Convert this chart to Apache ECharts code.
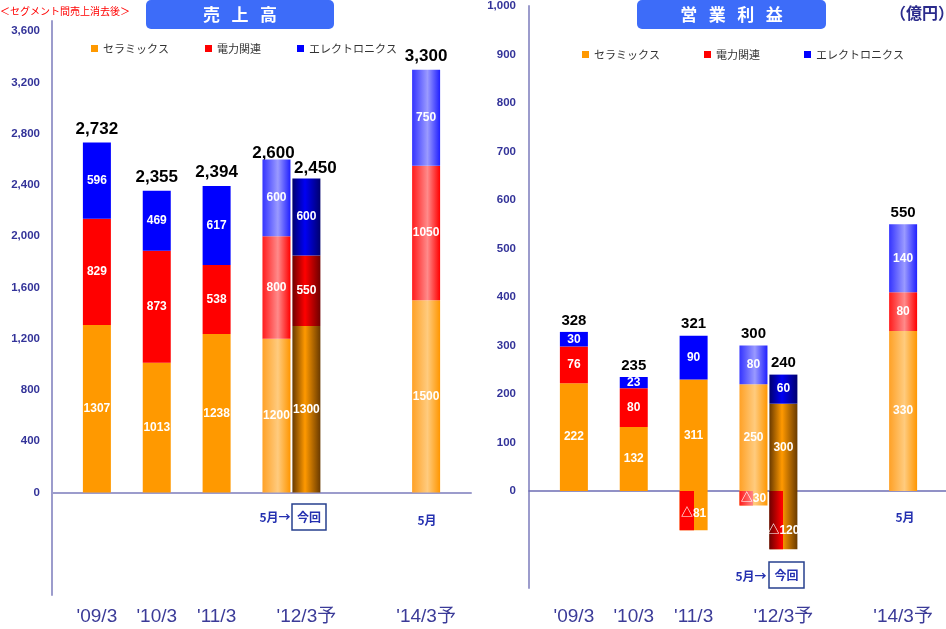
<!DOCTYPE html>
<html>
<head>
<meta charset="utf-8">
<script src="https://cdn.jsdelivr.net/npm/echarts@6/dist/echarts.min.js"></script>
<style>
  html, body { margin: 0; padding: 0; background: #ffffff; }
  #chart { width: 946px; height: 629px; }
</style>
</head>
<body>
<div id="chart"></div>
<script>
// ---- Data -------------------------------------------------------------
// Period labels printed under the columns
const periodLabels = ["'09/3", "'10/3", "'11/3", "'12/3予", "'14/3予"];
// Column kind per bar: actual result, May forecast, current revision
const barKinds = ['solid', 'solid', 'solid', 'light', 'dark', 'light'];

// 売上高 (億円): '09/3, '10/3, '11/3, '12/3予(5月), '12/3予(今回), '14/3予
const salesCeramics    = [1307, 1013, 1238, 1200, 1300, 1500];
const salesPower       = [829, 873, 538, 800, 550, 1050];
const salesElectronics = [596, 469, 617, 600, 600, 750];
const salesTotals      = [2732, 2355, 2394, 2600, 2450, 3300];

// 営業利益 (億円)
const opCeramics    = [222, 132, 311, 250, 300, 330];
const opPower       = [76, 80, -81, -30, -120, 80];
const opElectronics = [30, 23, 90, 80, 60, 140];
const opTotals      = [328, 235, 321, 300, 240, 550];

// Value-axis tick labels
const salesTicks = [0, 400, 800, 1200, 1600, 2000, 2400, 2800, 3200, 3600];
const opTicks    = [0, 100, 200, 300, 400, 500, 600, 700, 800, 900, 1000];

// ---- Layout helpers -----------------------------------------------------
// Each panel uses a 14-slot category axis; bars sit in these slots
const SLOT_COUNT = 14;
const barSlots = [1, 3, 5, 7, 8, 12];
const periodSlots = [1, 3, 5, 8, 12];
const slotNames = Array.from({ length: SLOT_COUNT }, (_, i) => 's' + i);

const FONT_LATIN = '"Liberation Sans", "Noto Sans CJK JP", sans-serif';
const FONT_JP = '"Noto Sans CJK JP", sans-serif';

function placeOnSlots(values, build) {
  const arr = new Array(SLOT_COUNT).fill('-');
  values.forEach((v, i) => { arr[barSlots[i]] = build(v, i); });
  return arr;
}

// Fills: flat for results, light cylinder for May forecasts, dark for revision
const FILLS = {
  ceramics:    { solid: '#ff9900', light: ['#ffa126', '#ffcb7e', '#ff9600'], dark: ['#693a00', '#ff9900', '#693a00'] },
  power:       { solid: '#ff0000', light: ['#ff1c1c', '#ff8a8a', '#ff0000'], dark: ['#6e0000', '#ff0000', '#6e0000'] },
  electronics: { solid: '#0000ff', light: ['#3434ff', '#9a9aff', '#2020ff'], dark: ['#00006e', '#0000f4', '#00006e'] }
};
const MID = { light: 0.55, dark: 0.45 };

function fill(key, kind) {
  const f = FILLS[key][kind];
  if (kind === 'solid') return f;
  return {
    type: 'linear', x: 0, y: 0, x2: 1, y2: 0,
    colorStops: [
      { offset: 0, color: f[0] },
      { offset: MID[kind], color: f[1] },
      { offset: 1, color: f[2] }
    ]
  };
}

// Loss segments are painted on the left half of the column only
function leftHalfFill(key, kind) {
  const clear = 'rgba(255,255,255,0)';
  const f = FILLS[key][kind];
  let stops;
  if (kind === 'solid') {
    stops = [{ offset: 0, color: f }, { offset: 0.5, color: f }];
  } else {
    stops = [
      { offset: 0, color: f[0] },
      { offset: Math.min(MID[kind], 0.5), color: f[1] },
      { offset: 0.5, color: f[1] }
    ];
  }
  stops.push({ offset: 0.5, color: clear }, { offset: 1, color: clear });
  return { type: 'linear', x: 0, y: 0, x2: 1, y2: 0, colorStops: stops };
}

const segLabel = {
  show: true, position: 'inside', color: '#ffffff',
  fontWeight: 'bold', fontSize: 12, fontFamily: FONT_LATIN
};
const fmt = v => Number(v).toLocaleString('en-US');

function segmentSeries(name, key, values, grid, stack, extra) {
  return Object.assign({
    name, type: 'bar', stack,
    xAxisIndex: grid === 0 ? 0 : 2, yAxisIndex: grid,
    barWidth: 28, barGap: '-100%',
    itemStyle: { color: FILLS[key].solid },
    emphasis: { disabled: true },
    label: segLabel,
    data: placeOnSlots(values, (v, i) => ({ value: v, itemStyle: { color: fill(key, barKinds[i]) } }))
  }, extra || {});
}

function totalSeries(values, grid, fontSize, distance, offsets) {
  return {
    name: '合計', type: 'bar',
    xAxisIndex: grid === 0 ? 0 : 2, yAxisIndex: grid,
    barWidth: 28, barGap: '-100%', z: 1, silent: true,
    itemStyle: { color: 'rgba(0,0,0,0)' },
    emphasis: { disabled: true },
    label: {
      show: true, position: 'top', distance,
      color: '#000000', fontWeight: 'bold', fontSize, fontFamily: FONT_LATIN,
      formatter: p => fmt(p.value)
    },
    data: placeOnSlots(values, (v, i) => ({ value: v, label: { offset: offsets[i] || [0, 0] } }))
  };
}

// ---- Series -----------------------------------------------------------
const salesSeries = [
  segmentSeries('セラミックス', 'ceramics', salesCeramics, 0, 'sales'),
  segmentSeries('電力関連', 'power', salesPower, 0, 'sales'),
  segmentSeries('エレクトロニクス', 'electronics', salesElectronics, 0, 'sales'),
  totalSeries(salesTotals, 0, 17, 5, { 3: [-3, 7], 4: [9, 3] })
];

const opLoss = opPower.map(v => (v < 0 ? v : 0));
const opGain = opPower.map(v => (v > 0 ? v : 0));
// nudges for the loss captions
const lossLabelShift = { 2: [0, 3], 4: [0, 11] };

const opSeries = [
  // power-segment losses form the base of the stack, drawn over the ceramics column
  {
    name: '電力関連', type: 'bar', stack: 'op', stackStrategy: 'all',
    xAxisIndex: 2, yAxisIndex: 1, barWidth: 28, barGap: '-100%', z: 3,
    itemStyle: { color: '#ff0000' },
    emphasis: { disabled: true },
    label: Object.assign({}, segLabel, { formatter: p => (p.value < 0 ? '△' + (-p.value) : '') }),
    data: placeOnSlots(opLoss, (v, i) => ({
      value: v,
      itemStyle: { color: leftHalfFill('power', barKinds[i]) },
      label: { offset: lossLabelShift[i] || [0, 0] }
    }))
  },
  segmentSeries('セラミックス', 'ceramics', opCeramics, 1, 'op', {
    stackStrategy: 'all',
    data: placeOnSlots(opCeramics, (v, i) => {
      const loss = Math.min(opPower[i], 0);
      const pct = ((v + loss) / (2 * v)) * 100;
      return {
        value: v,
        itemStyle: { color: fill('ceramics', barKinds[i]) },
        label: { position: ['50%', pct + '%'], align: 'center', verticalAlign: 'middle' }
      };
    })
  }),
  segmentSeries('電力関連', 'power', opGain, 1, 'op', {
    stackStrategy: 'all',
    label: Object.assign({}, segLabel, { formatter: p => (p.value > 0 ? String(p.value) : '') })
  }),
  segmentSeries('エレクトロニクス', 'electronics', opElectronics, 1, 'op', { stackStrategy: 'all' }),
  totalSeries(opTotals, 1, 15, 4, {})
];

// ---- Axes -------------------------------------------------------------
function zeroAxis(grid, color, width) {
  return {
    type: 'category', gridIndex: grid, data: slotNames, position: 'bottom',
    axisLine: { show: true, onZero: true, lineStyle: { color, width } },
    axisTick: { show: false }, axisLabel: { show: false }, splitLine: { show: false }
  };
}
function periodAxis(grid, margin) {
  return {
    type: 'category', gridIndex: grid, data: slotNames, position: 'bottom',
    axisLine: { show: false, onZero: false }, axisTick: { show: false },
    axisLabel: {
      interval: 0, margin, verticalAlign: 'middle',
      color: '#3b3b98', fontSize: 19, fontFamily: FONT_LATIN,
      formatter: (val, idx) => {
        const k = periodSlots.indexOf(idx);
        return k >= 0 ? periodLabels[k] : '';
      }
    }
  };
}
function valueAxis(grid, min, max, interval, ticks, margin) {
  return {
    type: 'value', gridIndex: grid, min, max, interval,
    axisLine: { show: true, lineStyle: { color: '#9c9ccc', width: 2 } },
    axisTick: { show: false }, splitLine: { show: false },
    axisLabel: {
      margin, color: '#333399', fontWeight: 'bold', fontSize: 11.5, fontFamily: FONT_LATIN,
      formatter: v => (ticks.includes(v) ? fmt(v) : '')
    }
  };
}

// ---- Legends ----------------------------------------------------------
const legendItems = [
  { name: 'セラミックス', itemStyle: { color: '#ff9900' } },
  { name: '電力関連', itemStyle: { color: '#ff0000' } },
  { name: 'エレクトロニクス', itemStyle: { color: '#0000ff' } }
];
function legendAt(left, top, gap) {
  return {
    left, top, padding: 0, itemGap: gap, itemWidth: 7, itemHeight: 7,
    icon: 'rect', selectedMode: false, data: legendItems,
    textStyle: { fontSize: 11, color: '#333333', fontFamily: FONT_JP }
  };
}

// ---- Titles and notes -------------------------------------------------
const noteFont = 'bold 12px "Noto Sans CJK JP", sans-serif';
const noteColor = '#2430b0';
function noteText(text, x, y) {
  return { type: 'text', x, y, z: 10, style: { text, fill: noteColor, font: noteFont, align: 'center', verticalAlign: 'middle' } };
}
function noteBox(x, y, w, h) {
  return { type: 'rect', z: 9, shape: { x, y, width: w, height: h }, style: { fill: '#ffffff', stroke: '#27408f', lineWidth: 1.5 } };
}
function titleBox(text, x, w) {
  return [
    { type: 'rect', shape: { x, y: 0, width: w, height: 29, r: 5 }, style: { fill: '#3d6cf9' } },
    { type: 'text', x: x + w / 2, y: 15, style: { text, fill: '#ffffff', font: 'bold 17px "Noto Sans CJK JP", sans-serif', align: 'center', verticalAlign: 'middle' } }
  ];
}

const graphics = [
  { type: 'text', x: 0, y: 11, style: { text: '＜セグメント間売上消去後＞', fill: '#ff0000', font: '10px "Noto Sans CJK JP", sans-serif', verticalAlign: 'middle' } },
  ...titleBox('売   上   高', 146, 188),
  ...titleBox('営   業   利   益', 637, 189),
  { type: 'text', x: 954, y: 13, style: { text: '（億円）', fill: '#2b2b8c', font: 'bold 16px "Noto Sans CJK JP", sans-serif', align: 'right', verticalAlign: 'middle' } },
  // sales panel notes
  noteText('5月→', 275, 517),
  noteBox(292, 504, 34, 26),
  noteText('今回', 309, 517),
  noteText('5月', 427, 520),
  // operating income panel notes
  noteText('5月→', 751, 576),
  noteBox(769, 562, 35, 26),
  noteText('今回', 786.5, 575),
  noteText('5月', 905, 517)
];

// ---- Chart --------------------------------------------------------------
const chart = echarts.init(document.getElementById('chart'), null, { renderer: 'canvas' });
chart.setOption({
  animation: false,
  backgroundColor: '#ffffff',
  grid: [
    { left: 52, top: 21, width: 419, height: 574, outerBoundsMode: 'none' },
    { left: 529, top: 6, width: 419, height: 582, outerBoundsMode: 'none' }
  ],
  xAxis: [
    zeroAxis(0, '#9c9ccc', 2),
    periodAxis(0, 22),
    zeroAxis(1, '#6e6eb4', 1.5),
    periodAxis(1, 29)
  ],
  yAxis: [
    valueAxis(0, -800, 3680, 400, salesTicks, 12),
    valueAxis(1, -200, 1000, 100, opTicks, 13)
  ],
  legend: [legendAt(91, 43, 36), legendAt(582, 49, 44)],
  graphic: graphics,
  series: salesSeries.concat(opSeries)
});
</script>
</body>
</html>
